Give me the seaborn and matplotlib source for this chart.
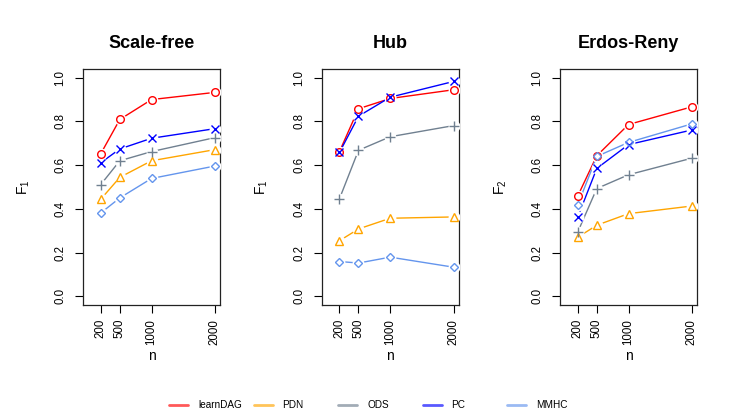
import seaborn as sns
import matplotlib.pyplot as plt
from matplotlib.lines import Line2D
import pandas as pd
import numpy as np

sample_sizes = [200, 500, 1000, 2000]
methods = ["learnDAG", "PDN", "ODS", "PC", "MMHC"]
panel_titles = ["Scale-free", "Hub", "Erdos-Reny"]
panel_ylabels = [r"$\mathregular{F_1}$", r"$\mathregular{F_1}$", r"$\mathregular{F_2}$"]

# scale-free
sf_learndag = [0.652, 0.809, 0.900, 0.933]
sf_pdn = [0.444, 0.544, 0.620, 0.671]
sf_ods = [0.511, 0.620, 0.662, 0.726]
sf_pc = [0.611, 0.674, 0.723, 0.767]
sf_mmhc = [0.381, 0.450, 0.539, 0.596]

# hub
hub_learndag = [0.662, 0.858, 0.905, 0.945]
hub_pdn = [0.254, 0.308, 0.357, 0.363]
hub_ods = [0.446, 0.668, 0.730, 0.781]
hub_pc = [0.658, 0.824, 0.911, 0.983]
hub_mmhc = [0.159, 0.152, 0.179, 0.133]

# erdos-renyi
er_learndag = [0.459, 0.643, 0.786, 0.867]
er_pdn = [0.270, 0.325, 0.378, 0.413]
er_ods = [0.294, 0.493, 0.556, 0.632]
er_pc = [0.363, 0.585, 0.694, 0.761]
er_mmhc = [0.418, 0.640, 0.704, 0.789]

colors = ["#FF0000", "#FFA500", "#708090", "#0000FF", "#6495ED"]
markers = ["o", "^", "+", "x", "D"]
msizes = [5.5, 6, 7.5, 6, 4.5]

sns.set_style("white")
plt.rcParams['font.family'] = ['Liberation Sans', 'DejaVu Sans']
plt.rcParams['text.color'] = 'black'
plt.rcParams['axes.labelcolor'] = 'black'
plt.rcParams['xtick.color'] = 'black'
plt.rcParams['ytick.color'] = 'black'

panels = [
    [sf_learndag, sf_pdn, sf_ods, sf_pc, sf_mmhc],
    [hub_learndag, hub_pdn, hub_ods, hub_pc, hub_mmhc],
    [er_learndag, er_pdn, er_ods, er_pc, er_mmhc],
]

fig = plt.figure(figsize=(7.47, 4.17), dpi=100)
lefts = [83 / 747, 321.7 / 747, 560 / 747]

for p, series in enumerate(panels):
    ax = fig.add_axes([lefts[p], 112 / 417, 137 / 747, 236 / 417])
    rows = []
    for m, vals in zip(methods, series):
        for n, v in zip(sample_sizes, vals):
            rows.append({"n": n, "value": v, "method": m})
    df = pd.DataFrame(rows)
    for i, m in enumerate(methods):
        d = df[df["method"] == m]
        sns.lineplot(data=d, x="n", y="value", color=colors[i], lw=1, ax=ax,
                     legend=False, zorder=2)
    for i, m in enumerate(methods):
        d = df[df["method"] == m]
        ax.plot(d["n"], d["value"], "o", ms=7.5, color="white", zorder=3)
    for i, m in enumerate(methods):
        d = df[df["method"] == m]
        ax.plot(d["n"], d["value"], linestyle="none", marker=markers[i], ms=msizes[i],
                markerfacecolor="none", markeredgecolor=colors[i], mew=1.0, zorder=4)

    ax.set_xlim(-80, 2080)
    ax.set_ylim(-0.04, 1.04)
    ax.set_xticks(sample_sizes)
    ax.set_xticklabels([str(s) for s in sample_sizes], rotation=90, fontsize=8.3)
    ax.set_yticks([0, 0.2, 0.4, 0.6, 0.8, 1.0])
    ax.set_yticklabels(["0.0", "0.2", "0.4", "0.6", "0.8", "1.0"], rotation=90,
                       va="center", fontsize=8.3)
    ax.tick_params(axis="x", length=5.5, width=0.8, pad=4.5, bottom=True)
    ax.tick_params(axis="y", length=5.5, width=0.8, pad=6.5, left=True)
    for s in ax.spines.values():
        s.set_visible(True)
        s.set_color("#222222")
        s.set_linewidth(0.9)
    ax.set_title(panel_titles[p], fontsize=13, fontweight="bold", pad=15)
    ax.set_xlabel("n", fontsize=10)
    ax.set_ylabel(panel_ylabels[p], fontsize=10)
    ax.xaxis.set_label_coords(0.5, -0.185)
    ax.yaxis.set_label_coords(-0.375, 0.5)
    ax.grid(False)

# legend: evenly spaced entries along the bottom
leg_x0 = 169 / 747
leg_step = 84.5 / 747
for i, m in enumerate(methods):
    h = Line2D([], [], color=colors[i], lw=2, alpha=0.65)
    fig.legend(handles=[h], labels=[m], loc="center left",
               bbox_to_anchor=(leg_x0 + i * leg_step, 1 - 405 / 417),
               frameon=False, fontsize=7.2, handlelength=1.9, handletextpad=1.0,
               borderpad=0, borderaxespad=0)

fig.savefig("out.png", dpi=100)
